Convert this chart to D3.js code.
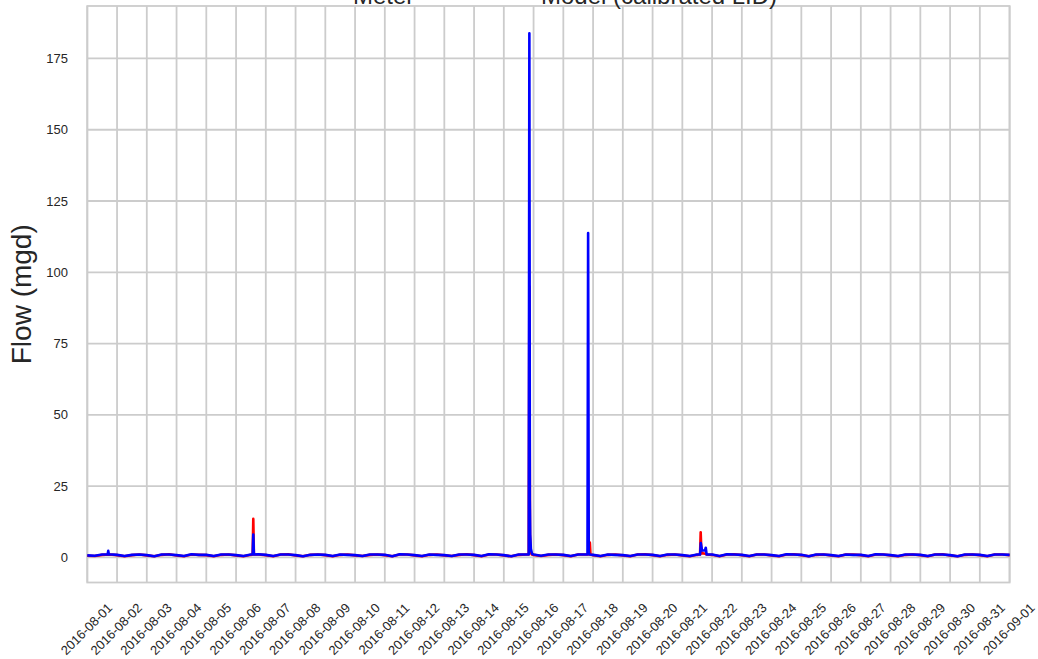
<!DOCTYPE html>
<html><head><meta charset="utf-8">
<script src="https://cdn.jsdelivr.net/npm/d3@7"></script>
<style>
body{margin:0;background:#fff;}
svg{display:block;font-family:"Liberation Sans",Arial,sans-serif;}
</style>
</head><body>
<svg id="chart" width="1038" height="659"></svg>
<script>
// ---------- DATA ----------
const seriesNames = ["Meter", "Model (calibrated LID)"];
const seriesColors = ["#ff0000", "#0000ff"];
const startDate = "2016-08-01";
const endDate = "2016-09-01";
const xTickLabels = ["2016-08-01","2016-08-02","2016-08-03","2016-08-04","2016-08-05","2016-08-06","2016-08-07","2016-08-08",
  "2016-08-09","2016-08-10","2016-08-11","2016-08-12","2016-08-13","2016-08-14","2016-08-15","2016-08-16",
  "2016-08-17","2016-08-18","2016-08-19","2016-08-20","2016-08-21","2016-08-22","2016-08-23","2016-08-24",
  "2016-08-25","2016-08-26","2016-08-27","2016-08-28","2016-08-29","2016-08-30","2016-08-31","2016-09-01"];
const yTickValues = [0, 25, 50, 75, 100, 125, 150, 175];
const yDomain = [-8.8, 193.4];
const baseStepHours = 6;

// 6-hourly baseline flow (mgd), from 2016-08-01 00:00
const meterBase = [
  0.6,0.5,0.9,1.0, 0.8,0.4,0.8,1.0, 0.7,0.4,0.9,1.1, 0.7,0.4,1.0,0.9, 0.8,0.4,0.9,1.0,
  0.7,0.4,0.9,1.0, 0.8,0.4,1.0,1.1, 0.7,0.4,0.9,1.0, 0.8,0.4,0.9,1.0, 0.7,0.5,0.9,1.0,
  0.8,0.4,1.0,1.0, 0.7,0.4,0.9,1.0, 0.7,0.5,0.9,1.1, 0.8,0.4,1.0,1.0, 0.7,0.4,0.9,1.0,
  0.9,0.5,0.9,1.0, 0.8,0.4,1.0,1.0, 0.8,0.4,0.9,1.0, 0.7,0.4,1.0,1.1, 0.8,0.4,0.9,1.0,
  0.7,0.4,0.9,1.0, 0.9,0.4,1.0,1.1, 0.8,0.4,1.0,1.0, 0.7,0.4,1.0,1.1, 0.8,0.4,0.9,1.0,
  0.7,0.4,1.0,1.0, 0.8,0.4,1.0,1.0, 0.7,0.4,0.9,1.0, 0.8,0.4,1.0,1.1, 0.7,0.4,0.9,1.0,
  0.8,0.4,1.0,1.0, 0.8
];
const modelBase = [
  0.7,0.6,1.0,1.1, 0.9,0.5,0.9,1.0, 0.8,0.4,1.0,1.0, 0.8,0.5,1.1,0.9, 0.9,0.5,1.0,1.0,
  0.8,0.5,1.0,1.1, 0.9,0.5,1.0,1.0, 0.8,0.4,0.9,1.0, 0.9,0.5,1.0,0.9, 0.8,0.5,1.0,1.0,
  0.9,0.4,1.1,1.0, 0.8,0.5,1.0,0.9, 0.8,0.5,1.0,1.0, 0.9,0.5,1.1,1.0, 0.8,0.4,1.0,1.0,
  1.0,0.6,1.0,1.0, 0.9,0.5,1.0,1.0, 0.9,0.5,1.0,0.9, 0.8,0.5,1.0,1.0, 0.9,0.5,1.0,1.0,
  0.8,0.5,1.0,1.0, 1.0,0.5,1.1,1.0, 0.9,0.5,1.0,1.0, 0.8,0.5,1.1,1.0, 0.9,0.4,1.0,1.0,
  0.8,0.5,1.0,0.9, 0.9,0.5,1.1,1.0, 0.8,0.5,1.0,1.0, 0.9,0.5,1.0,1.0, 0.8,0.4,1.0,1.0,
  0.9,0.5,1.0,1.0, 0.9
];

// spike events: [hour since start, flow]
const meterEvents = [
  [[133.4,1.0],[133.9,13.5],[134.4,1.0]],
  [[356.1,1.0],[356.6,95.0],[357.1,8.0],[357.6,2.0],[358.5,1.0]],
  [[404.9,1.0],[405.4,5.2],[405.9,1.0]],
  [[494.3,1.0],[494.8,8.8],[495.4,1.5],[498.5,1.3],[499.6,1.0]]
];
const modelEvents = [
  [[16.4,1.0],[16.9,2.3],[17.4,1.0]],
  [[133.4,1.0],[133.9,8.0],[134.4,1.0]],
  [[356.1,1.0],[356.6,183.8],[357.0,20.0],[357.3,8.0],[357.8,3.0],[358.8,1.2]],
  [[403.5,1.0],[404.0,113.8],[404.5,2.0],[405.0,1.0]],
  [[494.3,1.0],[494.9,5.0],[495.9,2.4],[498.2,2.4],[498.9,3.4],[499.6,1.0]]
];

// ---------- BUILD ----------
const t0 = d3.utcParse("%Y-%m-%d")(startDate);
const t1 = d3.utcParse("%Y-%m-%d")(endDate);
function hourToDate(h){ return new Date(t0.getTime() + h * 3600e3); }
function buildSeries(base, events){
  const pts = base.map((v, i) => ({h: i * baseStepHours, v}))
    .filter(p => !events.some(ev => p.h > ev[0][0] && p.h < ev[ev.length - 1][0]));
  const all = pts.concat(events.flat().map(([h, v]) => ({h, v})));
  all.sort((a, b) => a.h - b.h);
  return all.map(p => ({date: hourToDate(p.h), v: p.v}));
}
const series = [buildSeries(meterBase, meterEvents), buildSeries(modelBase, modelEvents)];

const svg = d3.select("#chart");
const L = 87.3, R = 1009.6, T = 6, B = 582.5;
const x = d3.scaleUtc().domain([t0, t1]).range([L, R]);
const y = d3.scaleLinear().domain(yDomain).range([B, T]);
const gridColor = "#cccccc";
const textColor = "#262626";

// gridlines
const parseTick = d3.utcParse("%Y-%m-%d");
const xTicks = xTickLabels.map(s => parseTick(s));
svg.append("g").selectAll("line").data(xTicks).join("line")
  .attr("x1", d => x(d)).attr("x2", d => x(d)).attr("y1", T).attr("y2", B)
  .attr("stroke", gridColor).attr("stroke-width", 1.8);
svg.append("g").selectAll("line").data(yTickValues).join("line")
  .attr("x1", L).attr("x2", R).attr("y1", d => y(d)).attr("y2", d => y(d))
  .attr("stroke", gridColor).attr("stroke-width", 1.8);
// frame
svg.append("rect").attr("x", L).attr("y", T).attr("width", R - L).attr("height", B - T)
  .attr("fill", "none").attr("stroke", gridColor).attr("stroke-width", 1.8);

// y tick labels
svg.append("g").selectAll("text").data(yTickValues).join("text")
  .attr("x", 68).attr("y", d => y(d)).attr("dy", "0.35em")
  .attr("text-anchor", "end").attr("font-size", 13).attr("fill", textColor)
  .text(d => d);

// x tick labels (rotated 45, centered on tick)
svg.append("g").selectAll("text").data(xTickLabels).join("text")
  .attr("transform", d => `translate(${x(parseTick(d)) - 0.8},629) rotate(-45)`)
  .attr("text-anchor", "middle").attr("dominant-baseline", "central")
  .attr("font-size", 13).attr("fill", textColor)
  .text(d => d);

// y axis label
svg.append("text")
  .attr("transform", `translate(31,${(T + B) / 2}) rotate(-90)`)
  .attr("text-anchor", "middle").attr("font-size", 28).attr("fill", textColor)
  .text("Flow (mgd)");

// lines
const line = d3.line().x(d => x(d.date)).y(d => y(d.v));
svg.append("g").selectAll("path").data(series).join("path")
  .attr("d", d => line(d)).attr("fill", "none")
  .attr("stroke", (d, i) => seriesColors[i]).attr("stroke-width", 2.6)
  .attr("stroke-linejoin", "round");

// legend (partially cut off at top)
const legendX = [353, 541];
svg.append("g").selectAll("text").data(seriesNames).join("text")
  .attr("x", (d, i) => legendX[i]).attr("y", 3.5)
  .attr("font-size", 24).attr("fill", textColor)
  .text(d => d);
</script>
</body></html>
